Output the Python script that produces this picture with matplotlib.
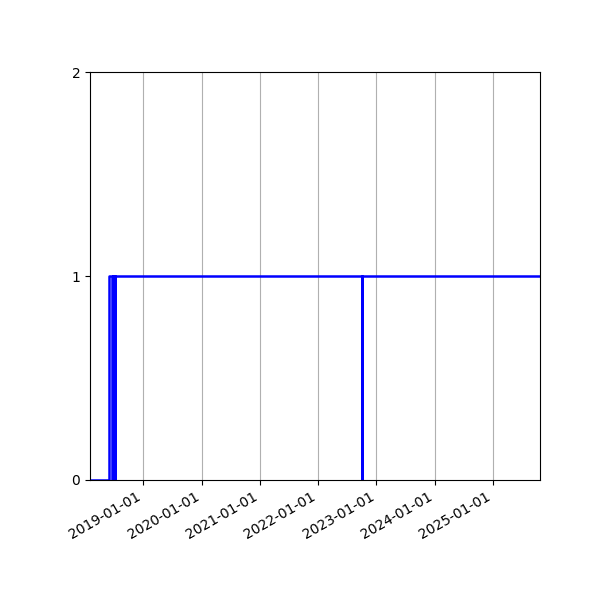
import numpy as np
import pandas as pd
from matplotlib import pyplot as plt
import matplotlib.dates as mdates

# dates where the state changes, and the state from that date on
change_dates = ['2018-02-01', '2018-05-31', '2018-06-19', '2018-06-24', '2018-06-28',
                '2018-07-02', '2018-07-06', '2018-07-10', '2022-09-30', '2022-10-02',
                '2025-10-22']
states = [0, 1, 0, 1, 0, 1, 0, 1, 0, 1, 1]

dates = pd.to_datetime(change_dates)

fig, ax = plt.subplots(figsize=(6, 6), dpi=100)
ax.step(dates, states, where='post', color='b', linewidth=1.8)
ax.set_xlim(dates[0], dates[-1])
ax.set_ylim(0, 2)
ax.set_yticks([0, 1, 2])
ax.xaxis.set_major_locator(mdates.YearLocator())
ax.xaxis.set_major_formatter(mdates.DateFormatter('%Y-%m-%d'))
ax.grid(axis='x')
fig.autofmt_xdate()
fig.subplots_adjust(left=0.15, right=0.9, top=0.88, bottom=0.2)
plt.savefig('out.png')
